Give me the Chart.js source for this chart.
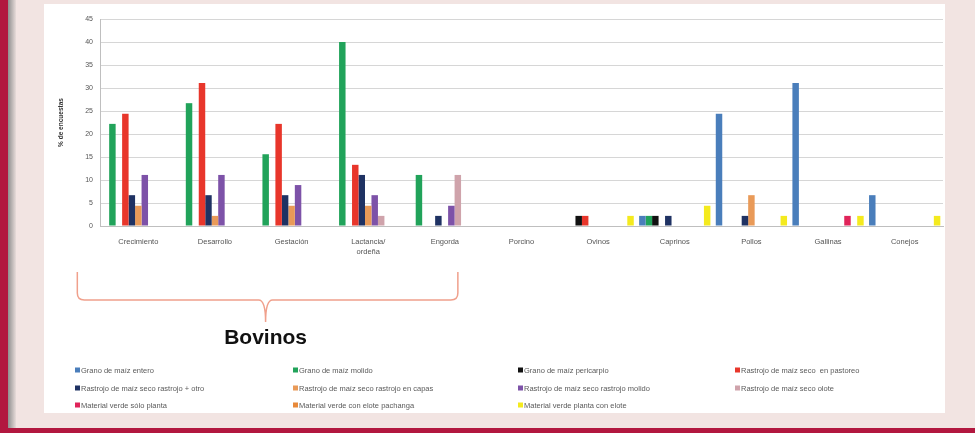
<!DOCTYPE html>
<html>
<head>
<meta charset="utf-8">
<script src="https://cdn.jsdelivr.net/npm/chart.js@4.4.0/dist/chart.umd.min.js"></script>
<style>
  html, body { margin: 0; padding: 0; }
  body {
    width: 975px; height: 433px; overflow: hidden;
    background: #f2e4e2; position: relative;
    font-family: "Liberation Sans", Arial, sans-serif;
  }
  .edge-left {
    position: absolute; left: 0; top: 0; width: 8px; height: 433px; background: #b2173f;
  }
  .edge-shadow {
    position: absolute; left: 8px; top: 0; width: 8px; height: 428px;
    background: linear-gradient(to right, #8f8f8f, #e8dcda);
  }
  .edge-bottom {
    position: absolute; left: 0; top: 428px; width: 975px; height: 5px; background: #b2173f;
  }
  .panel {
    position: absolute; left: 44px; top: 4px; width: 901px; height: 409px; background: #fff;
  }
</style>
</head>
<body>
<div class="edge-left"></div>
<div class="edge-shadow"></div>
<div class="edge-bottom"></div>
<div class="panel"><canvas id="usoChart" width="901" height="409"></canvas></div>

<script>
// categorias del eje x
const categorias = ['Crecimiento', 'Desarrollo', 'Gestación', ['Lactancia/', 'ordeña'], 'Engorda',
  'Porcino', 'Ovinos', 'Caprinos', 'Pollos', 'Gallinas', 'Conejos'];

const yTicks = [0, 5, 10, 15, 20, 25, 30, 35, 40, 45];

// % de encuestas por forma de uso
const granoEntero      = [0, 0, 0, 0, 0, 0, 0, 2.2, 24.4, 31.1, 6.7];
const granoMolido      = [22.2, 26.7, 15.6, 40, 11.1, 0, 0, 2.2, 0, 0, 0];
const granoPericarpio  = [0, 0, 0, 0, 0, 0, 2.2, 2.2, 0, 0, 0];
const rastrojoPastoreo = [24.4, 31.1, 22.2, 13.3, 0, 0, 2.2, 0, 0, 0, 0];
const rastrojoOtro     = [6.7, 6.7, 6.7, 11.1, 2.2, 0, 0, 2.2, 2.2, 0, 0];
const rastrojoCapas    = [4.4, 2.2, 4.4, 4.4, 0, 0, 0, 0, 6.7, 0, 0];
const rastrojoMolido   = [11.1, 11.1, 8.9, 6.7, 4.4, 0, 0, 0, 0, 0, 0];
const rastrojoOlote    = [0, 0, 0, 2.2, 11.1, 0, 0, 0, 0, 0, 0];
const verdePlanta      = [0, 0, 0, 0, 0, 0, 0, 0, 0, 2.2, 0];
const verdePachanga    = [0, 0, 0, 0, 0, 0, 0, 0, 0, 0, 0];
const verdeElote       = [0, 0, 0, 0, 0, 0, 2.2, 4.4, 2.2, 2.2, 2.2];

const series = [
  { label: 'Grano de maíz entero', data: granoEntero, color: '#4a7ebb' },
  { label: 'Grano de maíz molido', data: granoMolido, color: '#21a35a' },
  { label: 'Grano de maíz pericarpio', data: granoPericarpio, color: '#111111' },
  { label: 'Rastrojo de maíz seco  en pastoreo', data: rastrojoPastoreo, color: '#e8362b' },
  { label: 'Rastrojo de maíz seco rastrojo + otro', data: rastrojoOtro, color: '#1f3263' },
  { label: 'Rastrojo de maíz seco rastrojo en capas', data: rastrojoCapas, color: '#e99a58' },
  { label: 'Rastrojo de maíz seco rastrojo molido', data: rastrojoMolido, color: '#7d52a8' },
  { label: 'Rastrojo de maíz seco olote', data: rastrojoOlote, color: '#cfa3ab' },
  { label: 'Material verde sólo planta', data: verdePlanta, color: '#e0245a' },
  { label: 'Material verde con elote pachanga', data: verdePachanga, color: '#e8893a' },
  { label: 'Material verde planta con elote', data: verdeElote, color: '#f4ea1e' }
];

// llave bajo las etapas de bovinos, titulo y leyenda de 4 columnas
const extras = {
  id: 'extras',
  afterDraw(chart) {
    const ctx = chart.ctx;
    const x = chart.scales.x;
    const left = x.getPixelForValue(0) - 61;
    const right = x.getPixelForValue(4) + 13;
    const mid = (left + right) / 2 - 2;
    const top = 268, yb = 296, tip = 318, r = 7;

    ctx.save();
    ctx.strokeStyle = '#f0a08c';
    ctx.lineWidth = 1.5;
    ctx.beginPath();
    ctx.moveTo(left, top);
    ctx.lineTo(left, yb - r);
    ctx.quadraticCurveTo(left, yb, left + r, yb);
    ctx.lineTo(mid - r, yb);
    ctx.quadraticCurveTo(mid, yb, mid, tip);
    ctx.quadraticCurveTo(mid, yb, mid + r, yb);
    ctx.lineTo(right - r, yb);
    ctx.quadraticCurveTo(right, yb, right, yb - r);
    ctx.lineTo(right, top);
    ctx.stroke();

    ctx.fillStyle = '#111';
    ctx.font = 'bold 21px "Liberation Sans", Arial, sans-serif';
    ctx.textAlign = 'center';
    ctx.textBaseline = 'middle';
    ctx.fillText('Bovinos', mid, 334);

    const colX = [31, 249, 474, 691];
    const rowY = [366, 384, 401];
    ctx.font = '7.5px "Liberation Sans", Arial, sans-serif';
    ctx.textAlign = 'left';
    chart.data.datasets.forEach((ds, i) => {
      const cx = colX[i % 4], cy = rowY[Math.floor(i / 4)];
      ctx.fillStyle = ds.backgroundColor;
      ctx.fillRect(cx, cy - 2.5, 5, 5);
      ctx.fillStyle = '#5a5a5a';
      ctx.fillText(ds.label, cx + 6, cy + 0.5);
    });
    ctx.restore();
  }
};

new Chart(document.getElementById('usoChart'), {
  type: 'bar',
  data: {
    labels: categorias,
    datasets: series.map(s => ({
      label: s.label,
      data: s.data,
      backgroundColor: s.color,
      borderWidth: 0,
      categoryPercentage: 0.93,
      barPercentage: 1.0
    }))
  },
  options: {
    responsive: false,
    animation: false,
    layout: { padding: { top: 15, right: 2, left: 0, bottom: 0 } },
    plugins: {
      legend: { display: false },
      tooltip: { enabled: false }
    },
    scales: {
      x: {
        grid: { display: false, drawTicks: false },
        border: { color: '#bfbfbf' },
        ticks: {
          color: '#555',
          font: { size: 7.5, lineHeight: 1.45 },
          padding: 10,
          maxRotation: 0,
          autoSkip: false
        },
        afterFit(scale) { scale.height = 187; }
      },
      y: {
        min: 0,
        max: 45,
        afterBuildTicks(scale) { scale.ticks = yTicks.map(v => ({ value: v })); },
        grid: { color: '#d6d6d6', lineWidth: 1, drawTicks: false },
        border: { color: '#bfbfbf' },
        ticks: { color: '#555', font: { size: 7 }, padding: 7 },
        title: {
          display: true,
          text: '% de encuestas',
          color: '#333',
          font: { size: 6.5, weight: 'bold' },
          padding: { top: 13, bottom: 0 }
        },
        afterFit(scale) { scale.width = 56; }
      }
    }
  },
  plugins: [extras]
});
</script>
</body>
</html>
